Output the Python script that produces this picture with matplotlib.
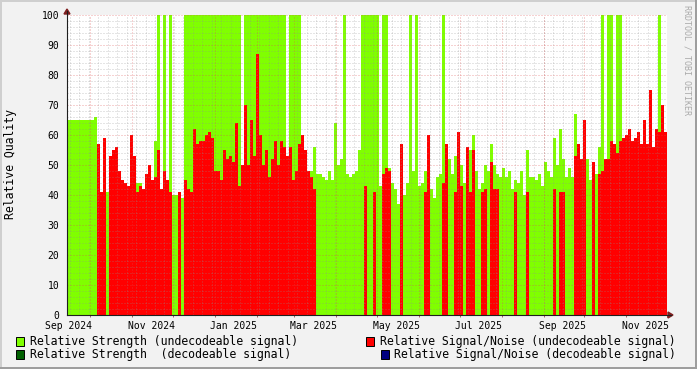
import numpy as np
import matplotlib
matplotlib.use("Agg")
import matplotlib.pyplot as plt
import matplotlib.dates as mdates
from matplotlib.patches import Rectangle, Polygon
from matplotlib.lines import Line2D
import pandas as pd
import datetime as dt

N = None
# Relative Strength (undecodeable signal) -- one value per ~2.2-day step
strength_undec = [
    65, 65, 65, 65, 65, 65, 65, 65, 65, 66,
    N, N, N, 41, 39, N, N, N, N, N,
    N, N, N, 44, 44, N, N, N, N, 58,
    100, N, 100, N, 100, 40, 40, N, 39, 100,
    100, 100, 100, 100, 100, 100, 100, 100, 100, 100,
    100, 100, 100, 100, 100, 100, 100, 100, N, 100,
    100, 100, 100, 100, 100, 100, 100, 100, 100, 100,
    100, 100, 100, N, 100, 100, 100, 100, N, N,
    N, 48, 56, 47, 47, 46, 45, 48, 45, 64,
    50, 52, 100, 47, 46, 47, 48, 55, 100, 100,
    100, 100, 100, 100, 43, 100, 100, 49, 44, 42,
    37, 48, 40, 44, 100, 48, 100, 43, 44, 48,
    55, 42, 39, 46, 47, 100, 50, 52, 47, 53,
    53, 50, 44, 48, 55, 60, 48, 42, 44, 50,
    48, 57, 50, 47, 46, 49, 46, 48, 42, 45,
    44, 48, 40, 55, 46, 46, 45, 47, 43, 51,
    48, 46, 59, 50, 62, 52, 46, 49, 46, 67,
    N, N, 62, 52, 45, 46, 47, 56, 100, N,
    100, 100, N, 100, 100, N, N, N, N, N,
    N, N, N, N, N, N, N, 100, N, N,
]
# Relative Signal/Noise (undecodeable signal)
snr_undec = [
    N, N, N, N, N, N, N, N, N, N,
    57, 41, 59, N, 53, 55, 56, 48, 45, 44,
    43, 60, 53, 41, 43, 42, 47, 50, 45, 46,
    55, 42, 48, 45, 41, N, N, 41, N, 45,
    42, 41, 62, 57, 58, 58, 60, 61, 59, 48,
    48, 45, 55, 52, 53, 51, 64, 43, 50, 70,
    50, 65, 53, 87, 60, 50, 55, 46, 52, 58,
    50, 58, 56, 53, 56, 45, 48, 57, 60, 55,
    48, 46, 42, N, N, N, N, N, N, N,
    N, N, N, N, N, N, N, N, N, 43,
    N, N, 41, N, N, 47, 49, 48, N, N,
    N, 57, N, N, N, N, N, N, N, 41,
    60, N, N, N, N, 44, 57, N, N, 41,
    61, 43, N, 56, 41, 55, N, N, 41, 42,
    N, 51, 42, 42, N, N, N, N, N, 41,
    N, N, N, 41, N, N, N, N, N, N,
    N, N, 42, N, 41, 41, N, N, N, 53,
    57, 52, 65, N, N, 51, N, 47, 48, 52,
    52, 58, 57, 54, 58, 59, 60, 62, 58, 59,
    61, 57, 65, 57, 75, 56, 62, 61, 70, 61,
]
# Decodeable-signal series: no visible data in this period
strength_dec = []
snr_dec = []

series_labels = [
    "Relative Strength (undecodeable signal)",
    "Relative Signal/Noise (undecodeable signal)",
    "Relative Strength  (decodeable signal)",
    "Relative Signal/Noise (decodeable signal)",
]
series_colors = ["#80FF00", "#FF0000", "#006000", "#000080"]

t_start = dt.datetime(2024, 9, 14, 18)
t_end = dt.datetime(2025, 12, 1, 21)
x_label_months = pd.date_range("2024-09-01", periods=8, freq="2MS") + pd.Timedelta(days=15)

W, H = 697, 369
fig = plt.figure(figsize=(W / 100, H / 100), dpi=100)
fig.patch.set_facecolor("#F2F2F2")
ax = fig.add_axes([67 / W, 1 - 315 / H, 600 / W, 300 / H])
ax.set_facecolor("white")

t0 = mdates.date2num(t_start)
t1 = mdates.date2num(t_end)


def arr(v):
    return np.array([np.nan if x is None else x for x in v], dtype=float)


for vals, col, z in [(strength_undec, series_colors[0], 1), (snr_undec, series_colors[1], 2),
                     (strength_dec, series_colors[2], 2.1), (snr_dec, series_colors[3], 2.2)]:
    if len(vals) == 0:
        continue
    a = np.nan_to_num(arr(vals))
    edges = np.linspace(t0, t1, len(a) + 1)
    ax.stairs(a, edges, fill=True, color=col, lw=0, zorder=z)

ax.set_xlim(t0, t1)
ax.set_ylim(0, 100)

minor_c = (0.56, 0.56, 0.56, 0.45)
major_c = (0.87, 0.31, 0.31, 0.5)
dots = (0, (1, 2))
for v in range(2, 101, 2):
    if v % 10:
        ax.axhline(v, color=minor_c, lw=0.72, ls=dots, zorder=3)
for d in pd.date_range(t_start, t_end, freq="W-MON"):
    ax.axvline(mdates.date2num(d), color=minor_c, lw=0.72, ls=dots, zorder=3)
for v in range(10, 101, 10):
    ax.axhline(v, color=major_c, lw=0.72, ls=dots, zorder=3.5)
month_starts = pd.date_range(t_start, t_end, freq="MS")
for d in month_starts:
    ax.axvline(mdates.date2num(d), color=major_c, lw=0.72, ls=dots, zorder=3.5)

for s in ax.spines.values():
    s.set_visible(False)

mono = "DejaVu Sans Mono"
ax.set_yticks(range(0, 101, 10))
ax.set_yticklabels([str(v) for v in range(0, 101, 10)], fontfamily=mono, fontsize=7)
ax.tick_params(axis="y", length=0, pad=5.5)
ax.set_xticks([mdates.date2num(d) for d in x_label_months])
ax.set_xticklabels([d.strftime("%b %Y") for d in x_label_months], fontfamily=mono, fontsize=7)
ax.tick_params(axis="x", length=0, pad=4)
ax.set_xticks([mdates.date2num(d) for d in month_starts], minor=True)
ax.tick_params(axis="x", which="minor", length=1.6, width=0.7, color="#A06060", direction="out")

axis_c = "#1F1F1F"
# axes lines extending past the plot, with arrows
fig.add_artist(Line2D([67 / W, 67 / W], [1 - 315 / H, 1 - 11 / H], color=axis_c, lw=0.8))
fig.add_artist(Line2D([67 / W, 671 / W], [1 - 315 / H, 1 - 315 / H], color=axis_c, lw=0.8))
arrow_c = "#7F1F1F"
fig.add_artist(Polygon([[64 / W, 1 - 14 / H], [70 / W, 1 - 14 / H], [67 / W, 1 - 9 / H]],
                       closed=True, color=arrow_c, transform=fig.transFigure))
fig.add_artist(Polygon([[668 / W, 1 - 312 / H], [668 / W, 1 - 318 / H], [673 / W, 1 - 315 / H]],
                       closed=True, color=arrow_c, transform=fig.transFigure))

fig.text(11 / W, 1 - 164 / H, "Relative Quality", rotation=90, ha="center", va="center",
         fontfamily=mono, fontsize=8.3)
fig.text(687 / W, 1 - 5 / H, "RRDTOOL / TOBI OETIKER", rotation=270, ha="center", va="top",
         fontfamily=mono, fontsize=6, color="#AAAAAA")

# legend
legend_pos = [(15, 341, 30), (365, 341, 380), (15, 354.5, 30), (380, 354.5, 394)]
for (sx, sy, tx), lab, col in zip(legend_pos, series_labels, series_colors):
    fig.add_artist(Rectangle(((sx + 0.5) / W, 1 - (sy + 4.5) / H), 8 / W, 9 / H,
                             facecolor=col, edgecolor="black", lw=0.7, transform=fig.transFigure))
    fig.text(tx / W, 1 - sy / H, lab, ha="left", va="center", fontfamily=mono, fontsize=8.3)

# 3D-style frame
fig.add_artist(Rectangle((0, 1 - 2 / H), 1, 2 / H, color="#CFCFCF", lw=0, transform=fig.transFigure))
fig.add_artist(Rectangle((0, 0), 2 / W, 1, color="#CFCFCF", lw=0, transform=fig.transFigure))
fig.add_artist(Rectangle((0, 0), 1, 2 / H, color="#9E9E9E", lw=0, transform=fig.transFigure))
fig.add_artist(Rectangle((1 - 2 / W, 0), 2 / W, 1, color="#9E9E9E", lw=0, transform=fig.transFigure))

fig.savefig("out.png", dpi=100, facecolor=fig.get_facecolor())
